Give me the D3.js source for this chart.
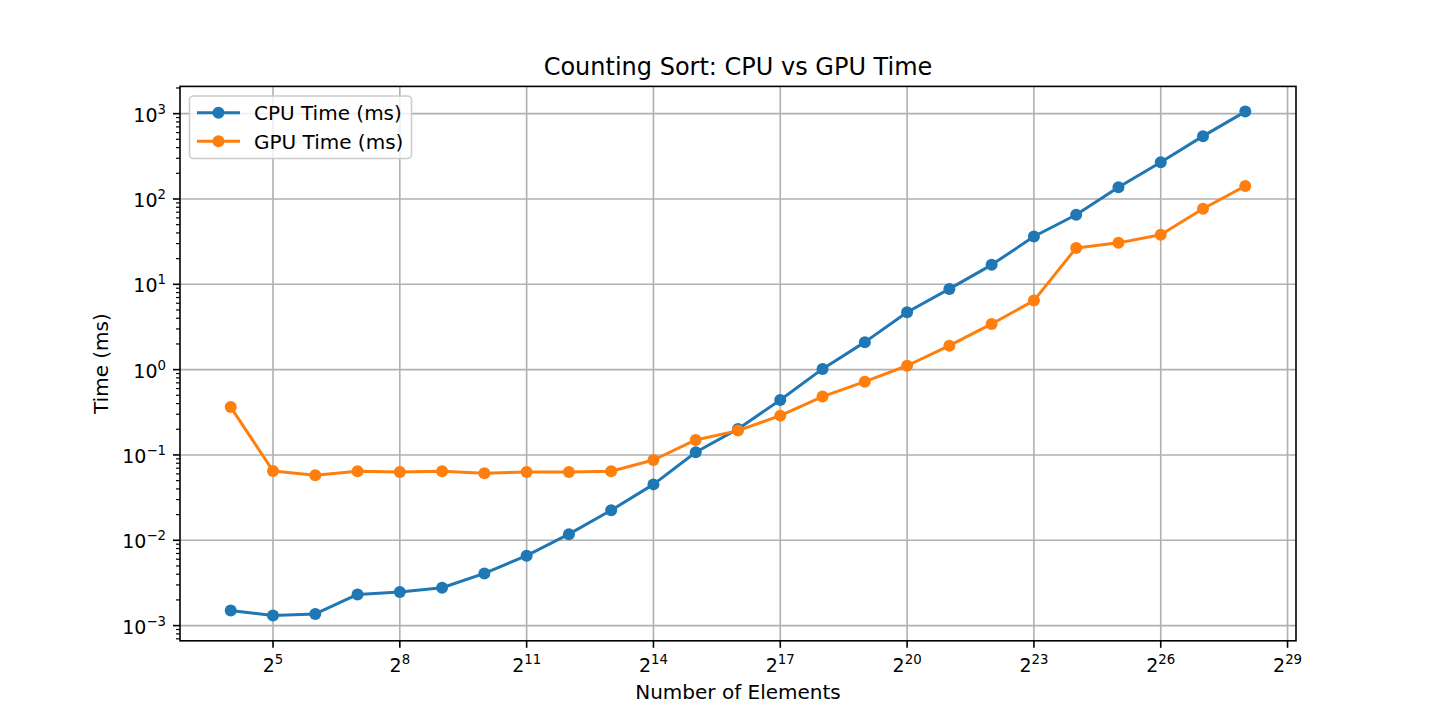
<!DOCTYPE html>
<html>
<head>
<meta charset="utf-8">
<script src="https://cdn.jsdelivr.net/npm/d3@7"></script>
<style>
  html, body { margin: 0; padding: 0; background: #ffffff; }
  svg { display: block; font-family: "DejaVu Sans", sans-serif; }
</style>
</head>
<body>
<svg id="chart" width="1440" height="720"></svg>
<script>
// ---- data ----
const exponents = [4,5,6,7,8,9,10,11,12,13,14,15,16,17,18,19,20,21,22,23,24,25,26,27,28];
const cpuTimes = [0.0015, 0.00131, 0.00137, 0.00232, 0.00247, 0.00278, 0.00409, 0.0066, 0.0118, 0.0225, 0.0452,
                  0.1076, 0.2018, 0.441, 1.02, 2.1, 4.71, 8.83, 16.9, 36.3, 65.3, 137, 270, 545, 1057];
const gpuTimes = [0.364, 0.0649, 0.0577, 0.0643, 0.0631, 0.0643, 0.061, 0.063, 0.063, 0.0643, 0.0873,
                  0.15, 0.193, 0.289, 0.483, 0.723, 1.11, 1.91, 3.43, 6.44, 26.7, 30.6, 38, 76.9, 142];
const xTickExponents = [5, 8, 11, 14, 17, 20, 23, 26, 29];
const yTickExponents = [-3, -2, -1, 0, 1, 2, 3];
const seriesNames = ["CPU Time (ms)", "GPU Time (ms)"];
const seriesColors = ["#1f77b4", "#ff7f0e"];
const titleText = "Counting Sort: CPU vs GPU Time";
const xLabelText = "Number of Elements";
const yLabelText = "Time (ms)";

(function () {
// ---- layout ----
const pL = 180, pR = 1296, pT = 86.4, pB = 640.8;
const svg = d3.select("#chart");

const nValues = exponents.map(e => Math.pow(2, e));
const exMin = d3.min(exponents), exMax = d3.max(exponents);
const exPad = (exMax - exMin) * 0.05;
const x = d3.scaleLog().base(2)
  .domain([Math.pow(2, exMin - exPad), Math.pow(2, exMax + exPad)])
  .range([pL, pR]);

const allY = cpuTimes.concat(gpuTimes);
const lyMin = Math.log10(d3.min(allY)), lyMax = Math.log10(d3.max(allY));
const lyPad = (lyMax - lyMin) * 0.05;
const y = d3.scaleLog()
  .domain([Math.pow(10, lyMin - lyPad), Math.pow(10, lyMax + lyPad)])
  .range([pB, pT]);

// ---- grid ----
const grid = svg.append("g");
xTickExponents.forEach(e => {
  const px = x(Math.pow(2, e));
  if (px < pL || px > pR) return;
  grid.append("line").attr("x1", px).attr("x2", px).attr("y1", pT).attr("y2", pB)
    .attr("stroke", "#b0b0b0").attr("stroke-width", 1.6);
});
yTickExponents.forEach(e => {
  const py = y(Math.pow(10, e));
  grid.append("line").attr("x1", pL).attr("x2", pR).attr("y1", py).attr("y2", py)
    .attr("stroke", "#b0b0b0").attr("stroke-width", 1.6);
});

// ---- series ----
const line = d3.line().x(d => x(d[0])).y(d => y(d[1]));
[cpuTimes, gpuTimes].forEach((vals, i) => {
  const pts = nValues.map((n, j) => [n, vals[j]]);
  const g = svg.append("g");
  g.append("path").datum(pts).attr("d", line)
    .attr("fill", "none").attr("stroke", seriesColors[i]).attr("stroke-width", 3)
    .attr("stroke-linejoin", "round").attr("stroke-linecap", "square");
  g.selectAll("circle").data(pts).join("circle")
    .attr("cx", d => x(d[0])).attr("cy", d => y(d[1])).attr("r", 6)
    .attr("fill", seriesColors[i]);
});

// ---- axes (spines, ticks, labels) ----
const axisG = svg.append("g");
axisG.append("rect").attr("x", pL).attr("y", pT).attr("width", pR - pL).attr("height", pB - pT)
  .attr("fill", "none").attr("stroke", "#000").attr("stroke-width", 1.6);

const tickFont = 19;
// x ticks
xTickExponents.forEach(e => {
  const px = x(Math.pow(2, e));
  axisG.append("line").attr("x1", px).attr("x2", px).attr("y1", pB).attr("y2", pB + 7)
    .attr("stroke", "#000").attr("stroke-width", 1.6);
  const t = axisG.append("text").attr("x", px).attr("y", pB + 31)
    .attr("text-anchor", "middle").attr("font-size", tickFont).attr("fill", "#000");
  t.append("tspan").text("2");
  t.append("tspan").attr("font-size", tickFont * 0.7).attr("dy", -8).text(String(e));
});
// y major ticks
yTickExponents.forEach(e => {
  const py = y(Math.pow(10, e));
  axisG.append("line").attr("x1", pL - 7).attr("x2", pL).attr("y1", py).attr("y2", py)
    .attr("stroke", "#000").attr("stroke-width", 1.6);
  const t = axisG.append("text").attr("x", pL - 14).attr("y", py + 8)
    .attr("text-anchor", "end").attr("font-size", tickFont).attr("fill", "#000");
  t.append("tspan").text("10");
  t.append("tspan").attr("font-size", tickFont * 0.7).attr("dy", -8)
    .text(e < 0 ? "\u2212" + Math.abs(e) : String(e));
});
// y minor ticks
const [yd0, yd1] = y.domain();
for (let k = Math.floor(Math.log10(yd0)); k <= Math.ceil(Math.log10(yd1)); k++) {
  for (let m = 2; m <= 9; m++) {
    const v = m * Math.pow(10, k);
    if (v < yd0 || v > yd1) continue;
    const py = y(v);
    axisG.append("line").attr("x1", pL - 4).attr("x2", pL).attr("y1", py).attr("y2", py)
      .attr("stroke", "#000").attr("stroke-width", 1.2);
  }
}

// ---- titles ----
svg.append("text").attr("x", (pL + pR) / 2).attr("y", 74.5)
  .attr("text-anchor", "middle").attr("font-size", 24).attr("fill", "#000").text(titleText);
svg.append("text").attr("x", (pL + pR) / 2).attr("y", 699)
  .attr("text-anchor", "middle").attr("font-size", 20).attr("fill", "#000").text(xLabelText);
svg.append("text").attr("transform", `translate(108,${(pT + pB) / 2}) rotate(-90)`)
  .attr("text-anchor", "middle").attr("font-size", 20).attr("fill", "#000").text(yLabelText);

// ---- legend ----
const lg = svg.append("g");
lg.append("rect").attr("x", 189.5).attr("y", 96).attr("width", 222).attr("height", 62.5)
  .attr("rx", 4).attr("ry", 4)
  .attr("fill", "#ffffff").attr("fill-opacity", 0.8).attr("stroke", "#cccccc").attr("stroke-width", 1.6);
seriesNames.forEach((name, i) => {
  const cy = 112.7 + i * 28.5;
  lg.append("line").attr("x1", 197).attr("x2", 240).attr("y1", cy).attr("y2", cy)
    .attr("stroke", seriesColors[i]).attr("stroke-width", 3);
  lg.append("circle").attr("cx", 218.5).attr("cy", cy).attr("r", 6).attr("fill", seriesColors[i]);
  lg.append("text").attr("x", 254).attr("y", cy + 7.5).attr("font-size", 20).attr("fill", "#000").text(name);
});
})();
</script>
</body>
</html>
